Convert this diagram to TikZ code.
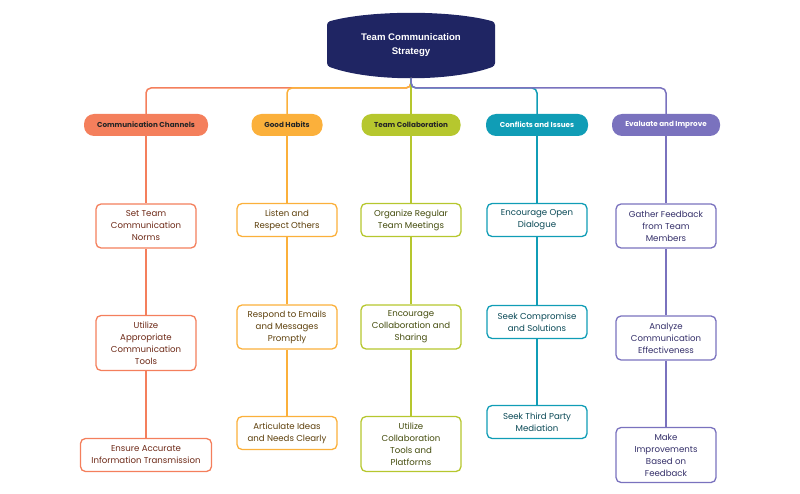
\documentclass[tikz,border=0pt]{standalone}
\usepackage{fontspec}
\setmainfont{Poppins}
\newfontfamily\rootfont{Liberation Sans}
\definecolor{navy}{HTML}{1F2563}
\definecolor{ccoral}{HTML}{F47F5C}
\definecolor{corange}{HTML}{FBB03B}
\definecolor{cgreen}{HTML}{B6C72E}
\definecolor{cteal}{HTML}{109DB6}
\definecolor{cpurple}{HTML}{7A72BE}
\definecolor{tcoral}{HTML}{6E2A18}
\definecolor{torange}{HTML}{5E400C}
\definecolor{tgreen}{HTML}{454D0E}
\definecolor{tteal}{HTML}{0B4A57}
\definecolor{tpurple}{HTML}{35306A}
\begin{document}
\begin{tikzpicture}[x=1pt,y=-1pt,
  branch/.style={rounded corners=10pt, minimum height=22pt, inner xsep=6pt, font=\fontsize{7.2}{9}\selectfont\bfseries, anchor=center},
  leaf/.style={draw, line width=1.3pt, fill=white, rounded corners=5pt, minimum width=100pt, align=center, font=\fontsize{8.6}{12}\selectfont, inner ysep=3pt},
  conn/.style={line width=1.5pt, rounded corners=5pt},
]
\useasboundingbox (0,0) rectangle (800,494);
% root shape
\fill[navy, rounded corners=3pt] (327,22) .. controls (370,10) and (452,10) .. (495,22) -- (495,66) .. controls (452,82) and (370,82) .. (327,66) -- cycle;
\node[text=white, font=\rootfont\fontsize{9.6}{14}\selectfont\bfseries, align=center] (root) at (411,45) {Team Communication\\Strategy};
\coordinate (rb) at (411,78);
% branch nodes
\node[branch, fill=ccoral, text=black!85, minimum width=124pt] (b1) at (146,125) {Communication Channels};
\node[branch, fill=corange, text=black!85, minimum width=71pt] (b2) at (287,125) {Good Habits};
\node[branch, fill=cgreen, text=black!85, minimum width=99pt] (b3) at (411,125) {Team Collaboration};
\node[branch, fill=cteal, text=white, minimum width=102pt] (b4) at (537,125) {Conflicts and Issues};
\node[branch, fill=cpurple, text=white, minimum width=108pt] (b5) at (666,125) {Evaluate and Improve};
% bus connectors
\draw[conn, ccoral] (rb) |- (146,88) -- (b1.north);
\draw[conn, corange] (rb) |- (287,88) -- (b2.north);
\draw[conn, cgreen] (rb) -- (b3.north);
\draw[conn, cteal] (rb) |- (537,88) -- (b4.north);
\draw[conn, cpurple] (rb) |- (666,88) -- (b5.north);
% leaves column 1
\node[leaf, draw=ccoral, text=tcoral, minimum height=44pt] (l11) at (146,226) {Set Team\\Communication\\Norms};
\node[leaf, draw=ccoral, text=tcoral, minimum height=55pt] (l12) at (146,343) {Utilize\\Appropriate\\Communication\\Tools};
\node[leaf, draw=ccoral, text=tcoral, minimum width=131pt, minimum height=33pt] (l13) at (146,455) {Ensure Accurate\\Information Transmission};
% column 2
\node[leaf, draw=corange, text=torange, minimum height=33pt] (l21) at (287,220) {Listen and\\Respect Others};
\node[leaf, draw=corange, text=torange, minimum height=44pt] (l22) at (287,327) {Respond to Emails\\and Messages\\Promptly};
\node[leaf, draw=corange, text=torange, minimum height=33pt] (l23) at (287,433) {Articulate Ideas\\and Needs Clearly};
% column 3
\node[leaf, draw=cgreen, text=tgreen, minimum height=33pt] (l31) at (411,220) {Organize Regular\\Team Meetings};
\node[leaf, draw=cgreen, text=tgreen, minimum height=44pt] (l32) at (411,327) {Encourage\\Collaboration and\\Sharing};
\node[leaf, draw=cgreen, text=tgreen, minimum height=55pt] (l33) at (411,444) {Utilize\\Collaboration\\Tools and\\Platforms};
% column 4
\node[leaf, draw=cteal, text=tteal, minimum height=33pt] (l41) at (537,220) {Encourage Open\\Dialogue};
\node[leaf, draw=cteal, text=tteal, minimum height=33pt] (l42) at (537,322) {Seek Compromise\\and Solutions};
\node[leaf, draw=cteal, text=tteal, minimum height=33pt] (l43) at (537,422) {Seek Third Party\\Mediation};
% column 5
\node[leaf, draw=cpurple, text=tpurple, minimum height=44pt] (l51) at (666,226) {Gather Feedback\\from Team\\Members};
\node[leaf, draw=cpurple, text=tpurple, minimum height=44pt] (l52) at (666,338) {Analyze\\Communication\\Effectiveness};
\node[leaf, draw=cpurple, text=tpurple, minimum height=55pt] (l53) at (666,455) {Make\\Improvements\\Based on\\Feedback};
% vertical connectors
\draw[conn, ccoral] (b1.south) -- (l11.north) (l11.south) -- (l12.north) (l12.south) -- (l13.north);
\draw[conn, corange] (b2.south) -- (l21.north) (l21.south) -- (l22.north) (l22.south) -- (l23.north);
\draw[conn, cgreen] (b3.south) -- (l31.north) (l31.south) -- (l32.north) (l32.south) -- (l33.north);
\draw[conn, cteal] (b4.south) -- (l41.north) (l41.south) -- (l42.north) (l42.south) -- (l43.north);
\draw[conn, cpurple] (b5.south) -- (l51.north) (l51.south) -- (l52.north) (l52.south) -- (l53.north);
\end{tikzpicture}
\end{document}
